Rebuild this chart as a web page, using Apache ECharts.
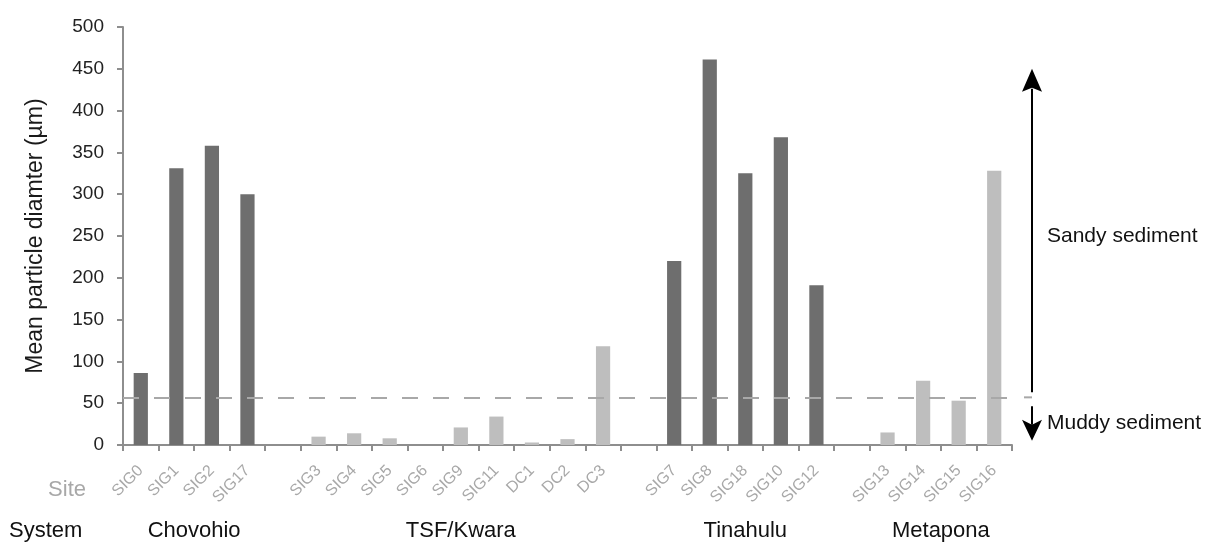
<!DOCTYPE html>
<html><head><meta charset="utf-8">
<script src="https://cdn.jsdelivr.net/npm/echarts@6/dist/echarts.min.js"></script>
<style>html,body{margin:0;padding:0;background:#fff}#chart{width:1215px;height:543px}</style>
</head><body><div id="chart"></div>
<script>
// ---- data ----
const systems = ['Chovohio', 'TSF/Kwara', 'Tinahulu', 'Metapona'];
const chovohioSites = ['SIG0', 'SIG1', 'SIG2', 'SIG17'];
const chovohioValues = [86, 331, 358, 300];
const tsfKwaraSites = ['SIG3', 'SIG4', 'SIG5', 'SIG6', 'SIG9', 'SIG11', 'DC1', 'DC2', 'DC3'];
const tsfKwaraValues = [10, 14, 8, 0, 21, 34, 3, 7, 118];
const tinahuluSites = ['SIG7', 'SIG8', 'SIG18', 'SIG10', 'SIG12'];
const tinahuluValues = [220, 461, 325, 368, 191];
const metaponaSites = ['SIG13', 'SIG14', 'SIG15', 'SIG16'];
const metaponaValues = [15, 77, 53, 328];
const systemShade = ['dark', 'light', 'dark', 'light'];
const yMin = 0, yMax = 500, yStep = 50;
const mudSandThreshold = 57;
const sandyArrowTop = 450, muddyArrowBottom = 5;
const sandyTextAt = 250, muddyTextAt = 26;

// ---- build categories ----
const siteGroups = [chovohioSites, tsfKwaraSites, tinahuluSites, metaponaSites];
const valueGroups = [chovohioValues, tsfKwaraValues, tinahuluValues, metaponaValues];
const categories = [], darkData = [], lightData = [], groupIdx = [];
siteGroups.forEach((sites, g) => {
  if (g > 0) { categories.push(''); darkData.push('-'); lightData.push('-'); }
  const idx = [];
  sites.forEach((s, k) => {
    idx.push(categories.length);
    categories.push(s);
    const v = valueGroups[g][k];
    if (systemShade[g] === 'dark') { darkData.push(v); lightData.push('-'); }
    else { lightData.push(v); darkData.push('-'); }
  });
  groupIdx.push(idx);
});

const FONT = '"Liberation Sans", Arial, sans-serif';
const AXIS = '#8e8e8e';
const chart = echarts.init(document.getElementById('chart'), null, {renderer: 'canvas'});
chart.setOption({
  animation: false,
  backgroundColor: '#fff',
  grid: {left: 123, right: 203, top: 27, bottom: 98, containLabel: false},
  xAxis: {
    type: 'category', data: categories,
    axisLine: {lineStyle: {color: AXIS, width: 2}},
    axisTick: {show: true, length: 6, lineStyle: {color: AXIS, width: 2}},
    axisLabel: {rotate: 45, interval: 0, color: '#a8a8a8', fontSize: 16, fontFamily: FONT, margin: 23}
  },
  yAxis: {
    type: 'value', min: yMin, max: yMax, interval: yStep,
    name: 'Mean particle diamter (µm)', nameLocation: 'middle', nameGap: 76,
    nameTextStyle: {fontSize: 23, color: '#1a1a1a', fontFamily: FONT},
    axisLine: {show: true, lineStyle: {color: AXIS, width: 2}},
    axisTick: {show: true, length: 6, lineStyle: {color: AXIS, width: 2}},
    axisLabel: {color: '#222', fontSize: 19, fontFamily: FONT, margin: 19},
    splitLine: {show: false}
  },
  series: [
    {type: 'bar', name: 'dark', data: darkData, barWidth: '40%', barGap: '-100%',
     itemStyle: {color: '#6e6e6e'},
     markLine: {silent: true, symbol: 'none', label: {show: false},
       lineStyle: {type: [16, 15], color: '#a8a8a8', width: 2},
       data: [{yAxis: mudSandThreshold}]}},
    {type: 'bar', name: 'light', data: lightData, barWidth: '40%', barGap: '-100%',
     itemStyle: {color: '#bebebe'}}
  ]
});

// ---- annotations positioned via the chart's scales ----
const px = (x, y) => chart.convertToPixel({xAxisIndex: 0, yAxisIndex: 0}, [x, y]);
const yAt = v => px(0, v)[1];
const gridRight = px(categories.length - 1, 0)[0] + (px(1, 0)[0] - px(0, 0)[0]) / 2;
const arrowX = gridRight + 20;
const yThr = yAt(mudSandThreshold);
const yTop = yAt(sandyArrowTop), yBot = yAt(muddyArrowBottom);
const yBase = yAt(0);
const graphics = [
  {type: 'line', shape: {x1: gridRight + 12, y1: yThr, x2: gridRight + 20, y2: yThr},
   style: {stroke: '#a8a8a8', lineWidth: 2}},
  {type: 'line', shape: {x1: arrowX, y1: yThr - 5, x2: arrowX, y2: yTop + 20},
   style: {stroke: '#000', lineWidth: 2}},
  {type: 'polygon', shape: {points: [[arrowX, yTop], [arrowX - 10, yTop + 23], [arrowX, yTop + 19], [arrowX + 10, yTop + 23]]},
   style: {fill: '#000'}},
  {type: 'line', shape: {x1: arrowX, y1: yThr + 9, x2: arrowX, y2: yBot - 16},
   style: {stroke: '#000', lineWidth: 2}},
  {type: 'polygon', shape: {points: [[arrowX, yBot], [arrowX - 10, yBot - 21], [arrowX, yBot - 16], [arrowX + 10, yBot - 21]]},
   style: {fill: '#000'}},
  {type: 'text', x: arrowX + 15, y: yAt(sandyTextAt),
   style: {text: 'Sandy sediment', font: '21px ' + FONT, fill: '#111', textVerticalAlign: 'middle', verticalAlign: 'middle'}},
  {type: 'text', x: arrowX + 15, y: yAt(muddyTextAt),
   style: {text: 'Muddy sediment', font: '21px ' + FONT, fill: '#111', textVerticalAlign: 'middle', verticalAlign: 'middle'}},
  {type: 'text', x: 86, y: yBase + 45,
   style: {text: 'Site', font: '22px ' + FONT, fill: '#a8a8a8', align: 'right', textAlign: 'right', textVerticalAlign: 'middle', verticalAlign: 'middle'}},
  {type: 'text', x: 9, y: yBase + 86,
   style: {text: 'System', font: '22px ' + FONT, fill: '#111', textVerticalAlign: 'middle', verticalAlign: 'middle'}}
];
systems.forEach((name, g) => {
  const idx = groupIdx[g];
  const cx = (px(idx[0], 0)[0] + px(idx[idx.length - 1], 0)[0]) / 2;
  graphics.push({type: 'text', x: cx, y: yBase + 86,
    style: {text: name, font: '22px ' + FONT, fill: '#111', align: 'center', textAlign: 'center', textVerticalAlign: 'middle', verticalAlign: 'middle'}});
});
chart.setOption({graphic: graphics});
</script>
</body></html>
